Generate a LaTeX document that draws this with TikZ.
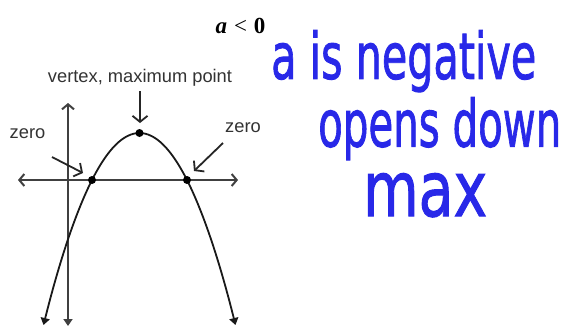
\documentclass[tikz,border=0pt]{standalone}
\usepackage{fontspec}
\usepackage{graphicx}
\setmainfont{Liberation Serif}
\newfontfamily\lblfont{Liberation Sans}
\newfontfamily\hwfont{DejaVu Sans}[BoldFont=DejaVu Sans,BoldFeatures={FakeBold=1.5}]
\usetikzlibrary{arrows.meta,calc}
\definecolor{inkblue}{RGB}{40,40,232}
\tikzset{
  axisline/.style={line width=2pt,draw=black!75},
  curveline/.style={line width=1.8pt,draw=black!90},
  barb/.style={-{Straight Barb[length=5pt,width=12pt]}},
  bigbarb/.style={-{Straight Barb[length=6pt,width=15pt]}},
  downtip/.style={-{Triangle[length=7pt,width=9pt]}},
  lbl/.style={font=\lblfont\fontsize{18.3}{20}\selectfont,text=black!80,inner sep=0pt,anchor=base},
  dot/.style={circle,fill=black,inner sep=0pt,minimum size=8pt},
  hwmain/.style={text=inkblue,inner sep=0pt,anchor=north west},
}
\newcommand\hwnode[6]{%
  \node[hwmain] (#1) at (#2,#3) {\resizebox*{#4}{#5}{\hwfont\bfseries #6}};
}
\begin{document}
\begin{tikzpicture}[x=1pt,y=-1pt]
\useasboundingbox[fill=white] (0,0) rectangle (564,325);
% title
\node[inner sep=0pt,anchor=base] (title) at (240.5,33.5) {\fontsize{23}{26}\selectfont\textbf{\textit{a}}\hspace{0.3em}<\hspace{0.3em}\textbf{0}};
% key points
\coordinate (vtx) at (139.5,133);
\coordinate (z1) at (92,180);
\coordinate (z2) at (187,180);
\coordinate (xl) at (18,180);
\coordinate (xr) at (238,180);
\coordinate (yt) at (68,103);
\coordinate (yb) at (68,326);
\coordinate (cl) at (43.5,325);
\coordinate (cr) at (235.5,325);
% axes
\draw[axisline,barb] (z1) -- (xl);
\draw[axisline,barb] (z1) -- (xr);
\draw[axisline,barb] (z1 -| yt) -- (yt);
\draw[axisline,downtip] (z1 -| yt) -- (yb);
% parabola
\draw[curveline,downtip] (vtx) .. controls (123.67,133) and (107.83,148.67) .. (z1) .. controls (75.83,212) and (59.67,260.33) .. (cl);
\draw[curveline,downtip] (vtx) .. controls (155.33,133) and (171.17,148.67) .. (z2) .. controls (203.17,212) and (219.33,260.33) .. (cr);
% dots
\node[dot] (dv) at (vtx) {};
\node[dot] (d1) at (z1) {};
\node[dot] (d2) at (z2) {};
% labels
\node[lbl] (vlab) at (140,82) {vertex, maximum point};
\node[lbl] (zl) at (27.5,138) {zero};
\node[lbl] (zr) at (243,132) {zero};
\coordinate (va) at (140,91);
\coordinate (vb) at (140,123);
\draw[line width=1.8pt,black!85,bigbarb] (va) -- (vb);
\coordinate (la) at (52,157);
\coordinate (lb) at (83,173);
\draw[line width=1.8pt,black!85,bigbarb] (la) -- (lb);
\coordinate (ra) at (223,143);
\coordinate (rb) at (194,171);
\draw[line width=1.8pt,black!85,bigbarb] (ra) -- (rb);
% handwriting
\hwnode{hw1}{271}{30}{265pt}{62pt}{a is negative}
\hwnode{hw2}{318}{97}{243pt}{63pt}{opens down}
\hwnode{hw3}{363}{173}{124pt}{44pt}{max}
\end{tikzpicture}
\end{document}
